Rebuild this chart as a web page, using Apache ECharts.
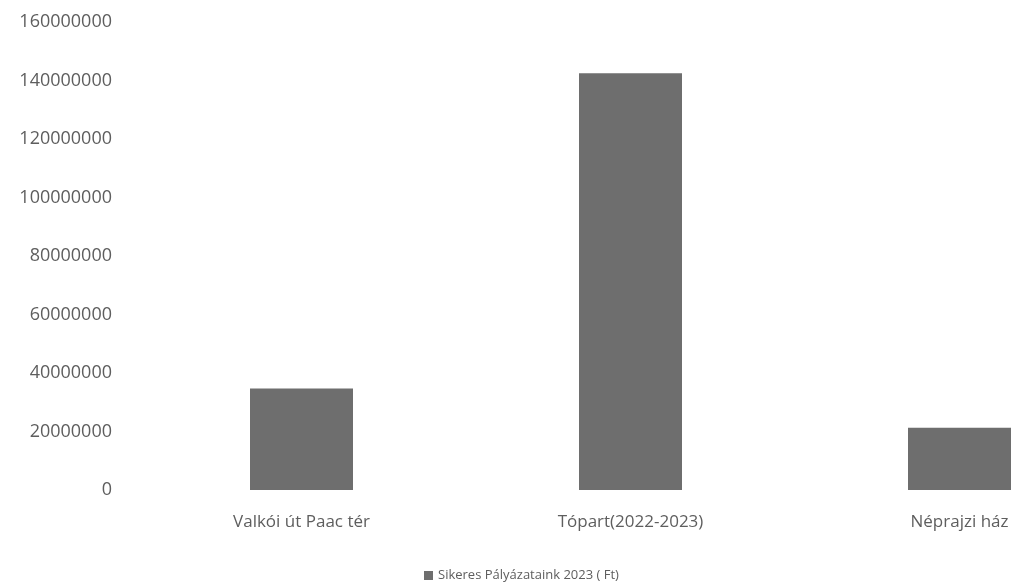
<!DOCTYPE html>
<html>
<head>
<meta charset="utf-8">
<script src="https://cdn.jsdelivr.net/npm/echarts@6/dist/echarts.min.js"></script>
<style>html,body{margin:0;padding:0;background:#fff;}#c{width:1019px;height:587px;}</style>
</head>
<body>
<div id="c"></div>
<script>
const categories = ['Valkói út Paac tér', 'Tópart(2022-2023)', 'Néprajzi ház'];
const values = [34700000, 142500000, 21300000];
const seriesName = 'Sikeres Pályázataink 2023 ( Ft)';
const yTicks = [0, 20000000, 40000000, 60000000, 80000000, 100000000, 120000000, 140000000, 160000000];

const chart = echarts.init(document.getElementById('c'));
const font = 'Open Sans, Noto Sans, sans-serif';
chart.setOption({
  animation: false,
  textStyle: { fontFamily: font },
  grid: { left: 137, top: 22, right: -105, bottom: 97, containLabel: false, outerBoundsMode: 'none' },
  legend: {
    data: [seriesName],
    left: 419, top: 564,
    icon: 'rect', itemWidth: 9, itemHeight: 9, itemGap: 4,
    textStyle: { color: '#5e5e5e', fontSize: 13, fontFamily: font }
  },
  xAxis: {
    type: 'category',
    data: categories,
    axisLine: { show: false },
    axisTick: { show: false },
    axisLabel: { color: '#5e5e5e', fontSize: 17, margin: 24, fontFamily: font }
  },
  yAxis: {
    type: 'value',
    min: yTicks[0], max: yTicks[yTicks.length - 1], interval: yTicks[1] - yTicks[0],
    splitLine: { show: false },
    axisLine: { show: false },
    axisTick: { show: false },
    axisLabel: { color: '#5e5e5e', fontSize: 18, margin: 25, fontFamily: font, formatter: v => String(v) }
  },
  series: [{
    name: seriesName,
    type: 'bar',
    data: values,
    barWidth: 103,
    itemStyle: { color: '#6e6e6e' }
  }]
});
</script>
</body>
</html>
